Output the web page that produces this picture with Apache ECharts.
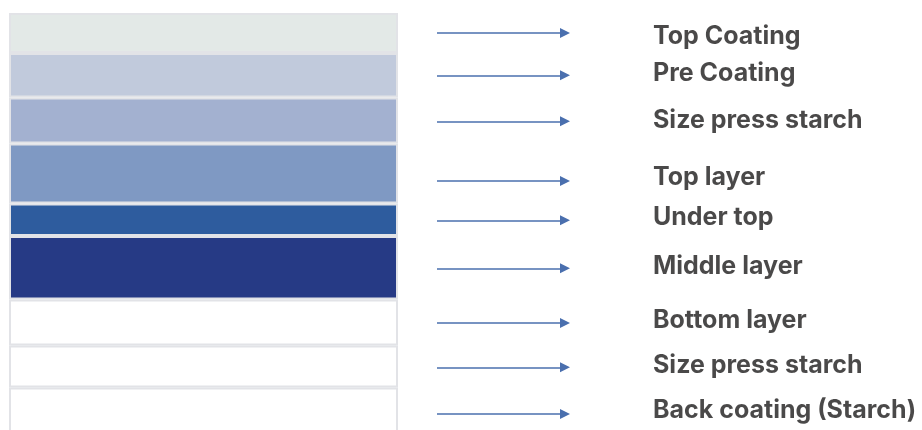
<!DOCTYPE html>
<html>
<head>
<meta charset="utf-8">
<script src="https://cdn.jsdelivr.net/npm/echarts@6/dist/echarts.min.js"></script>
<style>
  html, body { margin: 0; padding: 0; background: #fff; }
  #chart { width: 922px; height: 430px; }
</style>
</head>
<body>
<div id="chart"></div>
<script>
// layers, top to bottom
var layerNames = ['Top Coating', 'Pre Coating', 'Size press starch', 'Top layer', 'Under top',
  'Middle layer', 'Bottom layer', 'Size press starch', 'Back coating (Starch)'];
var layerThickness = [40, 44.5, 46, 60, 32.5, 63.5, 46, 42, 60];
var layerColors = ['#e3e9e7', '#c1cadc', '#a3b1d0', '#7f99c3', '#2e5c9e', '#263a85', '#ffffff', '#ffffff', '#ffffff'];
// where each arrow and label sits on the same depth scale
var arrowDepth = [20, 62.3, 108.3, 168, 207.3, 255.3, 310, 354.3, 401];
var labelDepth = [23, 60, 107.5, 164, 204, 253, 307.5, 352, 397.5];

var total = layerThickness.reduce(function (a, b) { return a + b; }, 0);

var chart = echarts.init(document.getElementById('chart'));

var series = layerNames.map(function (name, i) {
  return {
    name: name,
    type: 'bar',
    stack: 'layers',
    xAxisIndex: 0,
    yAxisIndex: 0,
    barWidth: '100%',
    data: [layerThickness[i]],
    itemStyle: {
      color: layerColors[i],
      borderColor: '#e2e3e7',
      borderWidth: 2
    },
    silent: true
  };
});

series.push({
  type: 'lines',
  coordinateSystem: 'cartesian2d',
  xAxisIndex: 1,
  yAxisIndex: 1,
  symbol: ['none', 'triangle'],
  symbolSize: 10,
  lineStyle: { color: '#4a6fae', width: 1.5, opacity: 1 },
  data: arrowDepth.map(function (d) {
    return { coords: [[17, d], [145, d]] };
  }),
  silent: true
});

series.push({
  type: 'scatter',
  xAxisIndex: 1,
  yAxisIndex: 1,
  symbolSize: 0,
  data: labelDepth.map(function (d, i) {
    return { value: [233, d], name: layerNames[i] };
  }),
  label: {
    show: true,
    position: 'right',
    distance: 0,
    formatter: '{b}',
    color: '#1d1b1c',
    fontFamily: 'Inter',
    fontWeight: 'bold',
    fontSize: 25
  },
  silent: true
});

chart.setOption({
  animation: false,
  grid: [
    { left: 9, width: 389, top: 13, height: total, outerBoundsMode: 'none', containLabel: false },
    { left: 420, width: 502, top: 13, height: total, outerBoundsMode: 'none', containLabel: false }
  ],
  xAxis: [
    { type: 'category', gridIndex: 0, data: ['paper'], show: false },
    { type: 'value', gridIndex: 1, min: 0, max: 502, show: false }
  ],
  yAxis: [
    { type: 'value', gridIndex: 0, inverse: true, min: 0, max: total, show: false },
    { type: 'value', gridIndex: 1, inverse: true, min: 0, max: total, show: false }
  ],
  series: series
});
</script>
</body>
</html>
